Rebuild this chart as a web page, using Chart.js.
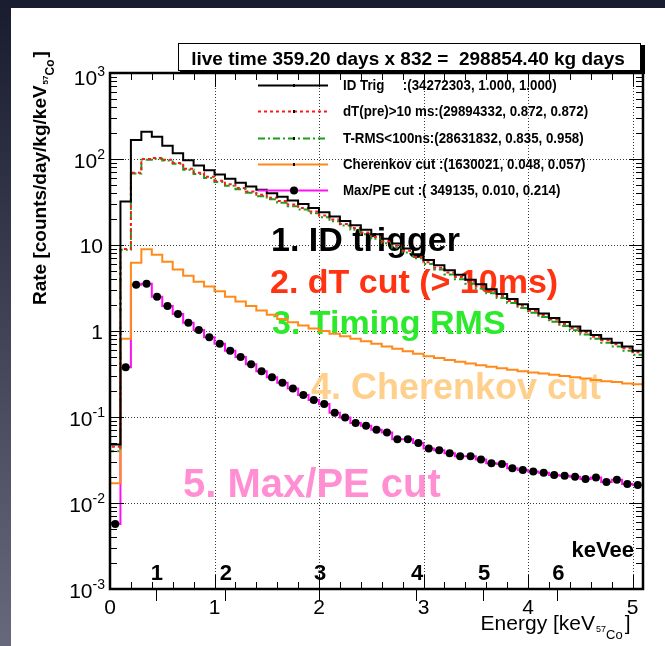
<!DOCTYPE html>
<html>
<head>
<meta charset="utf-8">
<script src="https://cdn.jsdelivr.net/npm/chart.js@4.4.1/dist/chart.umd.min.js"></script>
<style>
  html, body { margin: 0; padding: 0; }
  body { width: 665px; height: 646px; overflow: hidden; position: relative;
         background: linear-gradient(to bottom, #191c2e, #67687b); }
  #panel { position: absolute; left: 11px; top: 8px; right: 0; bottom: 0; background: #fff; }
  #wrap { position: absolute; left: 0; top: 0; width: 665px; height: 646px; }
</style>
</head>
<body>
<div id="panel"></div>
<div id="wrap"><canvas id="c" width="665" height="646"></canvas></div>
<script>
// energy binning in keV(57Co), 0.1 keV bins
const binWidth = 0.1;
const nBins = 51;
const binEdges = Array.from({ length: nBins + 1 }, (_, i) => Math.round(i * binWidth * 10) / 10);

// rate [counts/day/kg/keV] per bin
const idTrig = [0.048, 32, 166, 207, 181, 143, 117, 97, 84, 74,
  66, 59, 53, 48, 44, 40, 36.5, 33, 30, 27,
  24, 21.5, 19, 17, 15, 13.3, 11.8, 10.4, 9.1, 7.8,
  6.7, 5.8, 5.1, 4.5, 3.95, 3.5, 3.05, 2.7, 2.35, 2.05,
  1.8, 1.6, 1.42, 1.27, 1.13, 1.01, 0.9, 0.81, 0.73, 0.66, 0.59];
const dtCut = [0.045, 9.0, 69, 100, 103, 98, 90, 77, 69, 62,
  56, 51, 46, 42, 38.5, 35.5, 32.5, 29.5, 27, 24.5,
  22, 19.8, 17.6, 15.8, 14, 12.4, 11, 9.8, 8.6, 7.3,
  6.3, 5.45, 4.8, 4.25, 3.75, 3.3, 2.9, 2.56, 2.24, 1.96,
  1.72, 1.53, 1.36, 1.21, 1.08, 0.97, 0.86, 0.78, 0.7, 0.63, 0.565];
const tRms = [0.040, 8.8, 68, 98, 101, 96, 88, 75, 67, 60,
  54, 49, 44.5, 40.5, 37, 34, 31, 28.3, 25.8, 23.4,
  21, 18.9, 16.8, 15, 13.3, 11.8, 10.5, 9.3, 8.2, 7.0,
  6.0, 5.2, 4.55, 4.0, 3.55, 3.12, 2.74, 2.42, 2.12, 1.85,
  1.63, 1.45, 1.28, 1.14, 1.02, 0.91, 0.81, 0.73, 0.66, 0.59, 0.53];
const cherenkov = [0.017, 0.81, 6.2, 8.9, 7.7, 6.4, 5.2, 4.4, 3.75, 3.3,
  2.9, 2.5, 2.2, 1.95, 1.73, 1.55, 1.38, 1.26, 1.16, 1.07,
  1.0, 0.93, 0.87, 0.81, 0.76, 0.71, 0.66, 0.62, 0.58, 0.545,
  0.51, 0.485, 0.46, 0.44, 0.42, 0.4, 0.385, 0.37, 0.355, 0.34,
  0.33, 0.32, 0.31, 0.3, 0.29, 0.28, 0.27, 0.26, 0.255, 0.245, 0.24];
const maxPE = [0.0057, 0.38, 3.45, 3.55, 2.5, 1.95, 1.58, 1.25, 1.03, 0.845,
  0.71, 0.59, 0.5, 0.41, 0.34, 0.29, 0.25, 0.215, 0.18, 0.158,
  0.142, 0.112, 0.099, 0.085, 0.079, 0.071, 0.066, 0.055, 0.055, 0.05,
  0.043, 0.041, 0.038, 0.035, 0.035, 0.032, 0.029, 0.0285, 0.0253, 0.0242,
  0.0232, 0.0225, 0.0211, 0.0208, 0.0202, 0.019, 0.0198, 0.0176, 0.0186, 0.0166, 0.0162];

const legendLabels = [
  'ID Trig     :(34272303, 1.000, 1.000)',
  'dT(pre)>10 ms:(29894332, 0.872, 0.872)',
  'T-RMS<100ns:(28631832, 0.835, 0.958)',
  'Cherenkov cut :(1630021, 0.048, 0.057)',
  'Max/PE cut :( 349135, 0.010, 0.214)'
];
const titleText = 'live time 359.20 days x 832 =  298854.40 kg days';

// keVee scale marked along the energy axis
const keVeeLabels = ['1', '2', '3', '4', '5', '6'];
const keVeeAt = [0.44, 1.10, 2.00, 2.93, 3.57, 4.28];

const xMajor = [0, 1, 2, 3, 4, 5];
const yMin = 1e-3, yMax = 1e3;

const FONT = '"Liberation Sans", Arial, Helvetica, sans-serif';

// step histogram: start at the axis floor, then one point per bin low edge
function histPoints(vals) {
  const pts = [{ x: binEdges[0], y: yMin }];
  vals.forEach((v, i) => pts.push({ x: binEdges[i], y: v }));
  pts.push({ x: binEdges[vals.length], y: vals[vals.length - 1] });
  return pts;
}

const styles = [
  { color: '#000000', dash: [] },
  { color: '#ff1a1a', dash: [3, 3] },
  { color: '#1aa01a', dash: [7, 3, 2, 3] },
  { color: '#ff8a1a', dash: [] },
  { color: '#ff10f0', dash: [] }
];
const series = [idTrig, dtCut, tRms, cherenkov, maxPE];

const datasets = series.map((vals, i) => ({
  data: histPoints(vals),
  borderColor: styles[i].color,
  borderDash: styles[i].dash,
  borderWidth: 2,
  stepped: 'before',
  pointRadius: 0,
  fill: false,
  order: i + 1
}));
datasets.push({
  data: maxPE.map((v, i) => ({ x: (binEdges[i] + binEdges[i + 1]) / 2, y: v })),
  showLine: false,
  pointRadius: 4,
  pointBackgroundColor: '#000',
  pointBorderColor: '#000',
  pointBorderWidth: 0,
  order: 0
});

const notes = [
  { text: '1. ID trigger', color: '#000000', x: 271, y: 251, size: 34 },
  { text: '2. dT cut (> 10ms)', color: '#ff3312', x: 270, y: 293, size: 34 },
  { text: '3. Timing RMS', color: '#2bea2b', x: 272, y: 334, size: 34 },
  { text: '4. Cherenkov cut', color: '#ffcf8c', x: 311, y: 399, size: 36 },
  { text: '5. Max/PE cut', color: '#ff8fd2', x: 183, y: 497, size: 40 }
];

function seg(ctx, x1, y1, x2, y2) {
  ctx.beginPath(); ctx.moveTo(x1, y1); ctx.lineTo(x2, y2); ctx.stroke();
}

// "10" with a raised exponent, right edge at xr
function drawPow(ctx, exp, xr, yc) {
  ctx.font = '21px ' + FONT;
  const wb = ctx.measureText('10').width;
  ctx.font = '14px ' + FONT;
  const we = ctx.measureText(exp).width;
  ctx.textAlign = 'left'; ctx.textBaseline = 'alphabetic';
  ctx.font = '21px ' + FONT;
  ctx.fillText('10', xr - we - wb, yc + 8);
  ctx.font = '14px ' + FONT;
  ctx.fillText(exp, xr - we, yc - 1);
}

// "keV" with the 57Co subscript, drawn left to right from x on baseline y
function drawKeV(ctx, pre, x, y, size, weight) {
  ctx.textAlign = 'left'; ctx.textBaseline = 'alphabetic';
  ctx.font = weight + size + 'px ' + FONT;
  ctx.fillText(pre, x, y);
  x += ctx.measureText(pre).width;
  const s1 = Math.round(size * 0.42), s2 = Math.round(size * 0.62);
  ctx.font = weight + s1 + 'px ' + FONT;
  ctx.fillText('57', x + 1, y + size * 0.1);
  x += ctx.measureText('57').width + 1;
  ctx.font = weight + s2 + 'px ' + FONT;
  ctx.fillText('Co', x, y + size * 0.42);
  x += ctx.measureText('Co').width + 2;
  ctx.font = weight + size + 'px ' + FONT;
  ctx.fillText(']', x, y);
}

const rootDecor = {
  id: 'rootDecor',
  beforeDatasetsDraw(chart) {
    const { ctx, chartArea: a, scales: { x, y } } = chart;
    ctx.save();
    ctx.strokeStyle = '#3a3a3a';
    ctx.lineWidth = 1;
    ctx.setLineDash([1, 2]);
    xMajor.slice(1).forEach(v => {
      const px = Math.round(x.getPixelForValue(v)) + 0.5;
      seg(ctx, px, a.top, px, a.bottom);
    });
    for (let d = -2; d <= 2; d++) {
      const py = Math.round(y.getPixelForValue(Math.pow(10, d))) + 0.5;
      seg(ctx, a.left, py, a.right, py);
    }
    ctx.setLineDash([]);
    ctx.textAlign = 'left'; ctx.textBaseline = 'alphabetic';
    notes.forEach(n => {
      ctx.font = 'bold ' + n.size + 'px ' + FONT;
      ctx.fillStyle = n.color;
      ctx.fillText(n.text, n.x, n.y);
    });
    ctx.restore();
  },
  afterDatasetsDraw(chart) {
    const { ctx, chartArea: a, scales: { x, y } } = chart;
    ctx.save();
    ctx.strokeStyle = '#000'; ctx.fillStyle = '#000';
    ctx.setLineDash([]);

    // ticks on all four sides
    ctx.lineWidth = 1;
    for (let k = 0; k <= nBins; k += 2) {
      const v = binEdges[k];
      const px = Math.round(x.getPixelForValue(v)) + 0.5;
      const len = xMajor.includes(v) ? 14 : 7;
      seg(ctx, px, a.bottom, px, a.bottom - len);
      seg(ctx, px, a.top, px, a.top + len);
    }
    for (let d = -3; d <= 3; d++) {
      for (let m = 1; m <= 9; m++) {
        const v = m * Math.pow(10, d);
        if (v > yMax) break;
        const py = Math.round(y.getPixelForValue(v)) + 0.5;
        const len = m === 1 ? 14 : 7;
        seg(ctx, a.left, py, a.left + len, py);
        seg(ctx, a.right, py, a.right - len, py);
      }
    }
    keVeeAt.forEach(v => {
      const px = Math.round(x.getPixelForValue(v)) + 0.5;
      seg(ctx, px, a.bottom, px, a.bottom + 12);
    });

    // frame
    ctx.lineWidth = 2.5;
    ctx.strokeRect(a.left, a.top, a.right - a.left, a.bottom - a.top);

    // y tick labels
    for (let d = -3; d <= 3; d++) {
      const py = y.getPixelForValue(Math.pow(10, d));
      if (d === 0 || d === 1) {
        ctx.font = '21px ' + FONT;
        ctx.textAlign = 'right'; ctx.textBaseline = 'alphabetic';
        ctx.fillText(d === 0 ? '1' : '10', 103, py + 8);
      } else {
        drawPow(ctx, d < 0 ? '-' + (-d) : String(d), 105, py + (d === 3 ? 4 : 1));
      }
    }
    // x tick labels
    ctx.font = '21px ' + FONT;
    ctx.textAlign = 'center'; ctx.textBaseline = 'alphabetic';
    xMajor.forEach(v => ctx.fillText(String(v), x.getPixelForValue(v), 614));

    // keVee labels
    ctx.font = 'bold 22px ' + FONT;
    keVeeAt.forEach((v, i) => ctx.fillText(keVeeLabels[i], x.getPixelForValue(v) + 1, 580));
    ctx.textAlign = 'right';
    ctx.font = 'bold 22px ' + FONT;
    ctx.fillText('keVee', 634, 557);

    // axis titles
    ctx.font = '21px ' + FONT;
    ctx.textAlign = 'left';
    const wE = ctx.measureText('Energy [keV').width;
    drawKeV(ctx, 'Energy [keV', 643 - wE - 48, 630, 21, '');

    ctx.save();
    ctx.translate(46, 305);
    ctx.rotate(-Math.PI / 2);
    drawKeV(ctx, 'Rate [counts/day/kg/keV', 0, 0, 19, 'bold ');
    ctx.restore();

    // title box with shadow
    ctx.fillStyle = '#000';
    ctx.fillRect(180, 45, 465, 29);
    ctx.fillStyle = '#fff';
    ctx.fillRect(178, 43, 463, 28);
    ctx.lineWidth = 1;
    ctx.strokeRect(178.5, 43.5, 462, 27);
    ctx.fillStyle = '#000';
    ctx.font = 'bold 19px ' + FONT;
    ctx.textAlign = 'center';
    ctx.fillText(titleText, 408, 65);

    // legend
    const rows = [85, 111, 138, 164, 190];
    rows.forEach((ry, i) => {
      ctx.strokeStyle = styles[i].color;
      ctx.setLineDash(styles[i].dash);
      ctx.lineWidth = 2;
      seg(ctx, 258, ry + 0.5, 328, ry + 0.5);
      ctx.setLineDash([]);
      ctx.fillStyle = '#000';
      if (i === 4) {
        ctx.beginPath(); ctx.arc(294, ry + 0.5, 4, 0, Math.PI * 2); ctx.fill();
      } else {
        ctx.fillRect(293, ry - 1, 2, 3);
      }
      ctx.font = 'bold 14px ' + FONT;
      ctx.textAlign = 'left';
      ctx.save();
      ctx.translate(343, ry + 5);
      ctx.scale(0.95, 1);
      ctx.fillText(legendLabels[i], 0, 0);
      ctx.restore();
    });
    ctx.restore();
  }
};

new Chart(document.getElementById('c'), {
  type: 'line',
  data: { datasets },
  options: {
    responsive: false,
    animation: false,
    parsing: true,
    layout: { padding: { left: 110, top: 73, right: 22, bottom: 57 } },
    plugins: { legend: { display: false }, tooltip: { enabled: false } },
    scales: {
      x: { type: 'linear', min: 0, max: 5.1, display: false },
      y: { type: 'logarithmic', min: yMin, max: yMax, display: false }
    }
  },
  plugins: [rootDecor]
});
</script>
</body>
</html>
